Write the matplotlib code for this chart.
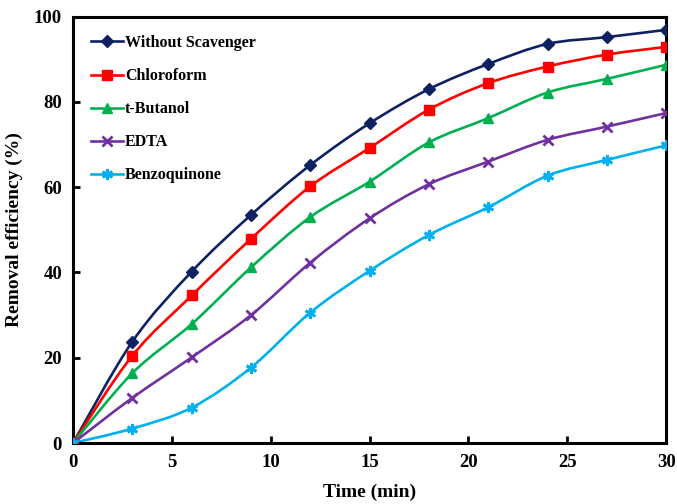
#!/usr/bin/env python
"""Removal efficiency vs time for different radical scavengers."""

import numpy as np
import matplotlib
matplotlib.use("Agg")
import matplotlib.pyplot as plt
from matplotlib.path import Path
from matplotlib.patches import PathPatch
from matplotlib.lines import Line2D

plt.rcParams['font.family'] = ['Liberation Serif', 'DejaVu Serif']
plt.rcParams['font.weight'] = 'bold'

time_min = [0, 3, 6, 9, 12, 15, 18, 21, 24, 27, 30]

without_scavenger = [0, 23.8, 40.2, 53.5, 65.2, 75.0, 83.0, 88.9, 93.6, 95.2, 96.9]
chloroform = [0, 20.5, 34.6, 47.9, 60.2, 69.2, 78.2, 84.4, 88.3, 91.1, 92.9]
t_butanol = [0, 16.4, 27.9, 41.2, 53.0, 61.3, 70.5, 76.2, 82.2, 85.4, 88.7]
edta = [0, 10.6, 20.1, 30.0, 42.3, 52.7, 60.7, 66.0, 71.1, 74.2, 77.4]
benzoquinone = [0, 3.4, 8.3, 17.7, 30.6, 40.4, 48.8, 55.3, 62.7, 66.4, 69.8]

series = [
    ("Without Scavenger", without_scavenger, '#0E2263', 'D', 6, 1.0),
    ("Chloroform", chloroform, '#FF0000', 's', 7.5, 1.0),
    ("t-Butanol", t_butanol, '#00B050', '^', 7.5, 1.0),
    ("EDTA", edta, '#7030A0', 'x', 7, 2.0),
    ("Benzoquinone", benzoquinone, '#00B0F0', (6, 2, 0), 8, 2.0),
]


def smooth_path(x, y):
    """Bezier path through the points, like a spreadsheet's smoothed line."""
    pts = np.column_stack([x, y]).astype(float)
    verts = [pts[0]]
    codes = [Path.MOVETO]
    n = len(pts)
    for i in range(n - 1):
        p0 = pts[i - 1] if i > 0 else pts[i]
        p1 = pts[i]
        p2 = pts[i + 1]
        p3 = pts[i + 2] if i + 2 < n else pts[i + 1]
        c1 = p1 + (p2 - p0) / 6.0
        c2 = p2 - (p3 - p1) / 6.0
        verts += [c1, c2, p2]
        codes += [Path.CURVE4] * 3
    return Path(verts, codes)


fig = plt.figure(figsize=(6.77, 5.04), dpi=100)
ax = fig.add_axes([0.108, 0.121, 0.876, 0.846])

handles = []
for label, values, color, marker, msize, mew in series:
    patch = PathPatch(smooth_path(time_min, values), facecolor='none',
                      edgecolor=color, lw=1.9, zorder=2)
    ax.add_patch(patch)
    ax.plot(time_min, values, ls='none', marker=marker, ms=msize,
            color=color, mec=color, mew=mew, zorder=3)
    handles.append(Line2D([], [], color=color, lw=1.9, marker=marker,
                          ms=msize, mew=mew, label=label))

ax.set_xlim(0, 30)
ax.set_ylim(0, 100)
ax.set_xticks(range(0, 31, 5))
ax.set_yticks(range(0, 101, 20))
ax.tick_params(direction='in', length=5, width=2, labelsize=13.5, pad=8)
for lbl in ax.get_xticklabels() + ax.get_yticklabels():
    lbl.set_fontweight('bold')
for spine in ax.spines.values():
    spine.set_linewidth(2.2)

ax.set_xlabel("Time (min)", fontsize=14, fontweight='bold', labelpad=9)
ax.set_ylabel("Removal efficiency (%)", fontsize=14, fontweight='bold', labelpad=8)

leg = ax.legend(handles=handles, loc='upper left', frameon=False,
                fontsize=11.5, handlelength=2.0, handletextpad=0.1,
                labelspacing=1.07, borderaxespad=0.3,
                bbox_to_anchor=(0.012, 0.983))
for txt in leg.get_texts():
    txt.set_fontweight('bold')

fig.savefig("out.png", dpi=100)
